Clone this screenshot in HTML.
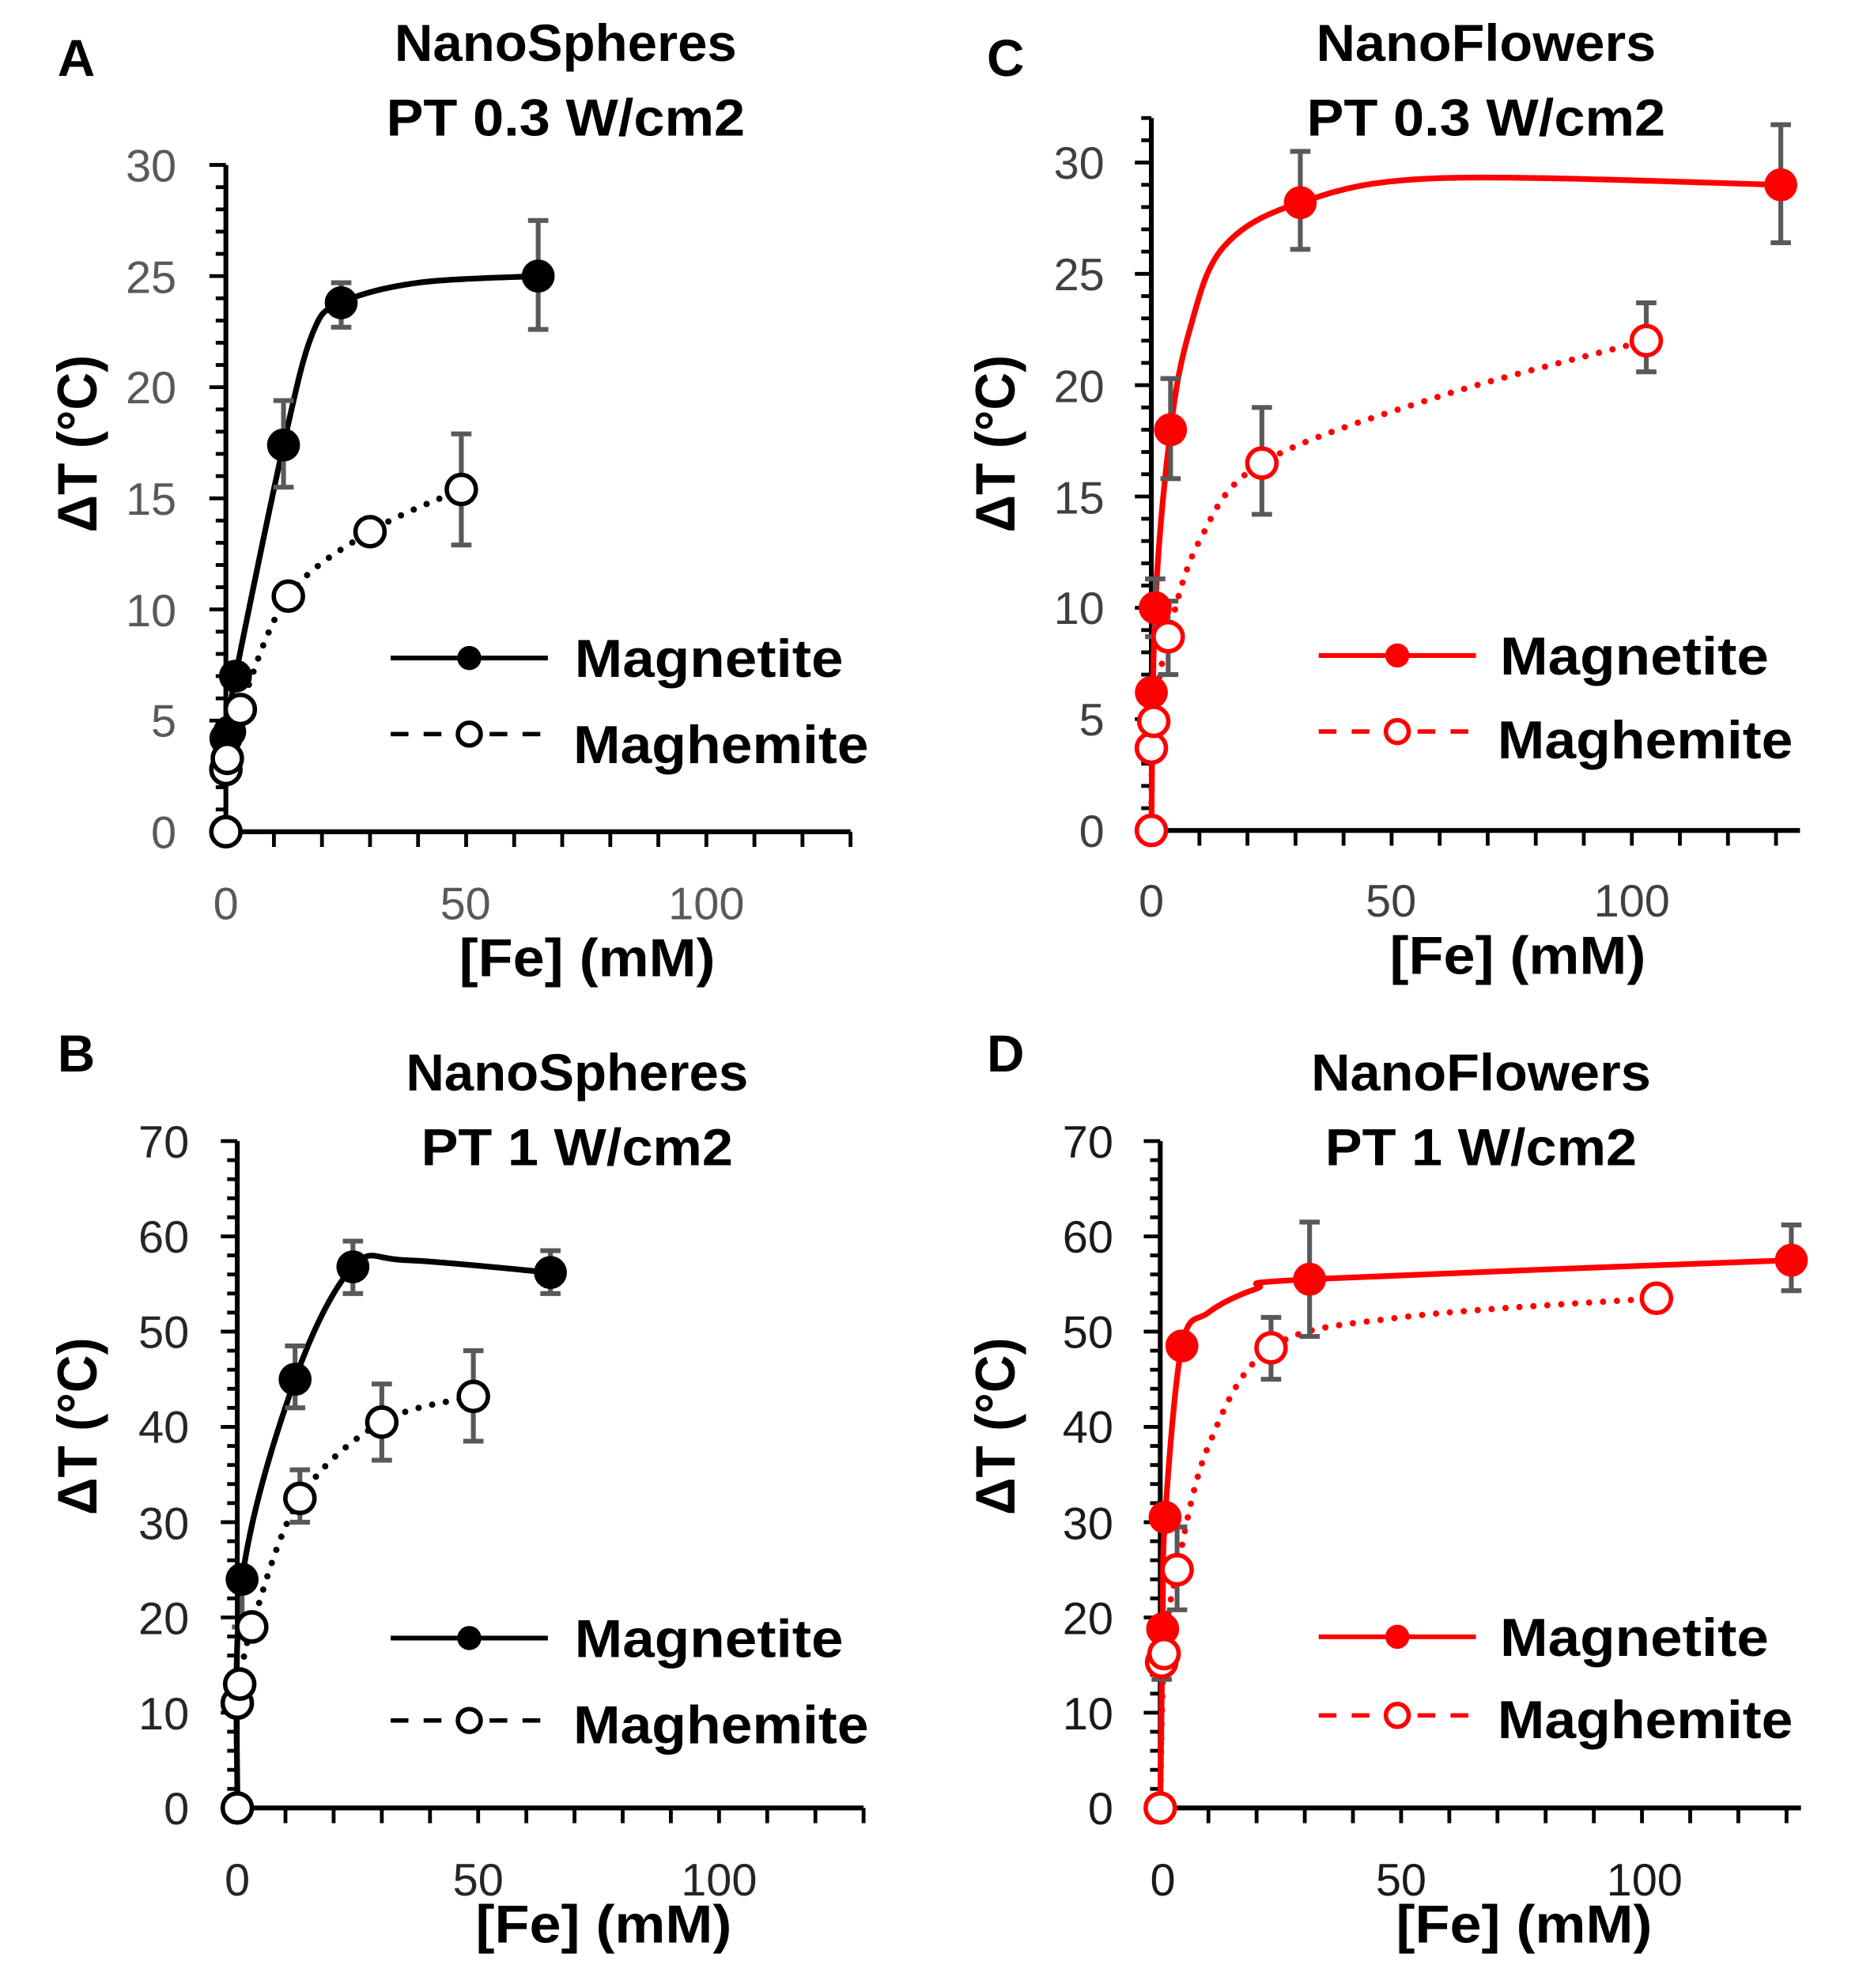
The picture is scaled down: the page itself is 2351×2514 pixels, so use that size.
<!DOCTYPE html>
<html><head><meta charset="utf-8"><style>
html,body{margin:0;padding:0;background:#fff;}
svg{display:block;}
text{font-family:"Liberation Sans",sans-serif;}
.t{font-weight:bold;font-size:41px;fill:#000;text-anchor:middle;}
.lt{font-weight:bold;font-size:42px;fill:#000;}
.tk{font-size:36px;text-anchor:middle;}
.yl{font-weight:bold;font-size:44px;fill:#000;text-anchor:middle;}
.n{font-size:36px;text-anchor:end;}
</style></head><body>
<svg id="s" width="2351" height="2514" viewBox="0 0 1466 1568" xmlns="http://www.w3.org/2000/svg">
<rect width="1466" height="1568" fill="#fff"/>
<!-- Panel A -->
<text class="t" x="60" y="60">A</text>
<text class="t" x="446" y="48" textLength="270" lengthAdjust="spacingAndGlyphs">NanoSpheres</text>
<text class="t" x="446" y="107" textLength="283" lengthAdjust="spacingAndGlyphs">PT 0.3 W/cm2</text>
<g fill="#595959">
<text class="n" x="139" y="143">30</text>
<text class="n" x="139" y="231">25</text>
<text class="n" x="139" y="318">20</text>
<text class="n" x="139" y="406">15</text>
<text class="n" x="139" y="494">10</text>
<text class="n" x="139" y="581">5</text>
<text class="n" x="139" y="669">0</text>
<text class="tk" x="178" y="725">0</text>
<text class="tk" x="367" y="725">50</text>
<text class="tk" x="557" y="725">100</text>
</g>
<text class="yl" transform="translate(76,350) rotate(-90)" textLength="140" lengthAdjust="spacingAndGlyphs">ΔT (°C)</text>
<text class="t" x="463" y="770" style="font-size:42px" textLength="202" lengthAdjust="spacingAndGlyphs">[Fe] (mM)</text>
<text class="lt" x="453" y="534" textLength="212" lengthAdjust="spacingAndGlyphs">Magnetite</text>
<text class="lt" x="452" y="602" textLength="233" lengthAdjust="spacingAndGlyphs">Maghemite</text>
<!-- Panel B -->
<text class="t" x="60" y="845">B</text>
<text class="t" x="455" y="860" textLength="270" lengthAdjust="spacingAndGlyphs">NanoSpheres</text>
<text class="t" x="455" y="919" textLength="246" lengthAdjust="spacingAndGlyphs">PT 1 W/cm2</text>
<g fill="#262626">
<text class="n" x="149" y="913">70</text>
<text class="n" x="149" y="988">60</text>
<text class="n" x="149" y="1063">50</text>
<text class="n" x="149" y="1138">40</text>
<text class="n" x="149" y="1214">30</text>
<text class="n" x="149" y="1289">20</text>
<text class="n" x="149" y="1364">10</text>
<text class="n" x="149" y="1439">0</text>
<text class="tk" x="187" y="1495">0</text>
<text class="tk" x="377" y="1495">50</text>
<text class="tk" x="567" y="1495">100</text>
</g>
<text class="yl" transform="translate(76,1125) rotate(-90)" textLength="140" lengthAdjust="spacingAndGlyphs">ΔT (°C)</text>
<text class="t" x="476" y="1532" style="font-size:42px" textLength="202" lengthAdjust="spacingAndGlyphs">[Fe] (mM)</text>
<text class="lt" x="453" y="1307" textLength="212" lengthAdjust="spacingAndGlyphs">Magnetite</text>
<text class="lt" x="452" y="1375" textLength="233" lengthAdjust="spacingAndGlyphs">Maghemite</text>
<!-- Panel C -->
<text class="t" x="793" y="60">C</text>
<text class="t" x="1172" y="48" textLength="268" lengthAdjust="spacingAndGlyphs">NanoFlowers</text>
<text class="t" x="1172" y="107" textLength="283" lengthAdjust="spacingAndGlyphs">PT 0.3 W/cm2</text>
<g fill="#404040">
<text class="n" x="871" y="141">30</text>
<text class="n" x="871" y="229">25</text>
<text class="n" x="871" y="317">20</text>
<text class="n" x="871" y="405">15</text>
<text class="n" x="871" y="492">10</text>
<text class="n" x="871" y="580">5</text>
<text class="n" x="871" y="668">0</text>
<text class="tk" x="908" y="723">0</text>
<text class="tk" x="1097" y="723">50</text>
<text class="tk" x="1287" y="723">100</text>
</g>
<text class="yl" transform="translate(800,350) rotate(-90)" textLength="140" lengthAdjust="spacingAndGlyphs">ΔT (°C)</text>
<text class="t" x="1197" y="768" style="font-size:42px" textLength="202" lengthAdjust="spacingAndGlyphs">[Fe] (mM)</text>
<text class="lt" x="1183" y="532" textLength="212" lengthAdjust="spacingAndGlyphs">Magnetite</text>
<text class="lt" x="1181" y="598" textLength="233" lengthAdjust="spacingAndGlyphs">Maghemite</text>
<!-- Panel D -->
<text class="t" x="793" y="845">D</text>
<text class="t" x="1168" y="860" textLength="268" lengthAdjust="spacingAndGlyphs">NanoFlowers</text>
<text class="t" x="1168" y="919" textLength="246" lengthAdjust="spacingAndGlyphs">PT 1 W/cm2</text>
<g fill="#1a1a1a">
<text class="n" x="878" y="913">70</text>
<text class="n" x="878" y="988">60</text>
<text class="n" x="878" y="1063">50</text>
<text class="n" x="878" y="1138">40</text>
<text class="n" x="878" y="1214">30</text>
<text class="n" x="878" y="1289">20</text>
<text class="n" x="878" y="1364">10</text>
<text class="n" x="878" y="1439">0</text>
<text class="tk" x="917" y="1495">0</text>
<text class="tk" x="1105" y="1495">50</text>
<text class="tk" x="1297" y="1495">100</text>
</g>
<text class="yl" transform="translate(800,1125) rotate(-90)" textLength="140" lengthAdjust="spacingAndGlyphs">ΔT (°C)</text>
<text class="t" x="1202" y="1532" style="font-size:42px" textLength="202" lengthAdjust="spacingAndGlyphs">[Fe] (mM)</text>
<text class="lt" x="1183" y="1306" textLength="212" lengthAdjust="spacingAndGlyphs">Magnetite</text>
<text class="lt" x="1181" y="1371" textLength="233" lengthAdjust="spacingAndGlyphs">Maghemite</text>
<g id="geo"></g>
</svg>
<script>
var NS="http://www.w3.org/2000/svg",G=document.getElementById('geo');
function el(n,a){var e=document.createElementNS(NS,n);for(var k in a)e.setAttribute(k,a[k]);G.appendChild(e);return e;}
function spline(p){var d="M"+p[0][0]+","+p[0][1];for(var i=0;i<p.length-1;i++){var p0=p[i-1]||p[i],p1=p[i],p2=p[i+1],p3=p[i+2]||p2;var k=1/6;
d+=" C"+(p1[0]+(p2[0]-p0[0])*k)+","+(p1[1]+(p2[1]-p0[1])*k)+" "+(p2[0]-(p3[0]-p1[0])*k)+","+(p2[1]-(p3[1]-p1[1])*k)+" "+p2[0]+","+p2[1];}return d;}
function panel(c){
 var X=function(v){return c.x0+v*c.sx},Y=function(v){return c.y0-v*c.sy};
 el('line',{x1:c.x0,y1:c.y0,x2:X(c.xmax),y2:c.y0,stroke:'#000','stroke-width':3.8});
 el('line',{x1:c.x0,y1:c.y0+2,x2:c.x0,y2:Y(c.ytop),stroke:'#000','stroke-width':3.8});
 for(var v=0;v<=c.ytop+1e-6;v+=c.ym){var maj=Math.abs(v/c.yM-Math.round(v/c.yM))<1e-6;
  el('line',{x1:c.x0-(maj?13:8),y1:Y(v),x2:c.x0,y2:Y(v),stroke:'#000','stroke-width':3});}
 for(var v=10;v<=c.xmax;v+=10){el('line',{x1:X(v),y1:c.y0,x2:X(v),y2:c.y0+12,stroke:'#000','stroke-width':3});}
 c.series.forEach(function(s){
  var pts=s.curve.map(function(q){return [X(q[0]),Y(q[1])]});
  el('path',{d:spline(pts),fill:'none',stroke:c.col,'stroke-width':s.open?5:4.5,'stroke-dasharray':s.open?'0 11':'none','stroke-linecap':'round'});
 });
 c.series.forEach(function(s){
  (s.err||[]).forEach(function(e){el('path',{d:"M"+(X(e[0])-8)+","+Y(e[1])+"h16M"+X(e[0])+","+Y(e[1])+"V"+Y(e[2])+"M"+(X(e[0])-8)+","+Y(e[2])+"h16",stroke:'#595959','stroke-width':3.8,fill:'none'});});
 });
 c.series.forEach(function(s){
  s.pts.forEach(function(q){el('circle',{cx:X(q[0]),cy:Y(q[1]),r:s.open?11.5:12.5,fill:s.open?'#fff':c.col,stroke:c.col,'stroke-width':s.open?3.5:1});});
 });
 var L=c.leg;
 el('line',{x1:L[0],y1:L[1],x2:L[0]+124,y2:L[1],stroke:c.col,'stroke-width':3.8});
 el('circle',{cx:L[0]+62,cy:L[1],r:9.5,fill:c.col});
 el('line',{x1:L[0],y1:L[2],x2:L[0]+124,y2:L[2],stroke:c.col,'stroke-width':3.5,'stroke-dasharray':'14 12'});
 el('circle',{cx:L[0]+62,cy:L[2],r:9,fill:'#fff',stroke:c.col,'stroke-width':3.5});
}
panel({x0:178,y0:656,sx:3.79,sy:17.53,xmax:130,ytop:30,ym:1,yM:5,col:'#000',leg:[308,519,579],series:[
 {pts:[[0,4.2],[0.8,4.5],[2,7],[12,17.4],[24,23.8],[65,25]],curve:[[0,4.2],[2,7],[12,17.4],[18,22.4],[24,23.8],[40,24.7],[65,25]],err:[[12,15.5,19.4],[24,22.7,24.7],[65,22.6,27.5]]},
 {open:1,pts:[[0,0],[0,2.8],[0.3,3.3],[3,5.5],[13,10.6],[30,13.5],[49,15.4]],curve:[[0,3],[3,5.5],[13,10.6],[30,13.5],[49,15.4]],err:[[49,12.9,17.9]]}]});
panel({x0:187,y0:1426,sx:3.8,sy:7.514,xmax:130,ytop:70,ym:2,yM:10,col:'#000',leg:[308,1292,1357],series:[
 {pts:[[1,24],[12,45],[24,56.8],[65,56.2]],curve:[[0,0],[1,24],[12,45],[24,56.8],[35,57.5],[65,56.2]],err:[[1,19,25],[12,42,48.5],[24,54,59.5],[65,54,58.5]]},
 {open:1,pts:[[0,0],[0,11],[0.5,13],[3,19],[13,32.5],[30,40.5],[49,43.2]],curve:[[0.5,13],[3,19],[13,32.5],[30,40.5],[49,43.2]],err:[[13,30,35.5],[30,36.5,44.5],[49,38.5,48]]}]});
panel({x0:908,y0:655,sx:3.79,sy:17.56,xmax:135,ytop:32,ym:1,yM:5,col:'#f00',leg:[1040,517,577],series:[
 {pts:[[0,6.2],[0.8,10],[4,18],[31,28.2],[131,29]],curve:[[0,0],[0.8,10],[4,18],[8,22.5],[15,26.2],[31,28.2],[60,29.3],[131,29]],err:[[0.8,8.7,11.3],[4,15.8,20.3],[31,26.1,30.5],[131,26.4,31.7]]},
 {open:1,pts:[[0,0],[0,3.7],[0.5,4.9],[3.5,8.7],[23,16.5],[103,22]],curve:[[0,0],[0.5,4.9],[3.5,8.7],[10,13],[23,16.5],[60,19.5],[103,22]],err:[[3.5,7,10.3],[23,14.2,19],[103,20.6,23.7]]}]});
panel({x0:915,y0:1426,sx:3.8,sy:7.514,xmax:133,ytop:70,ym:2,yM:10,col:'#f00',leg:[1040,1291,1353],series:[
 {pts:[[0.5,18.8],[1,30.5],[4.5,48.5],[31,55.5],[131,57.5]],curve:[[0,0],[0.5,18.8],[1,30.5],[4.5,48.5],[10,52],[20,54.5],[31,55.5],[131,57.5]],err:[[31,49.5,61.5],[131,54.3,61.2]]},
 {open:1,pts:[[0,0],[0.3,15.3],[0.8,16.2],[3.5,25],[23,48.3],[103,53.5]],curve:[[0,0],[0.8,16.2],[3.5,25],[10,38],[23,48.3],[50,51.5],[103,53.5]],err:[[0.3,13.5,16],[3.5,20.8,29.5],[23,45,51.5]]}]});
</script>
</body></html>
